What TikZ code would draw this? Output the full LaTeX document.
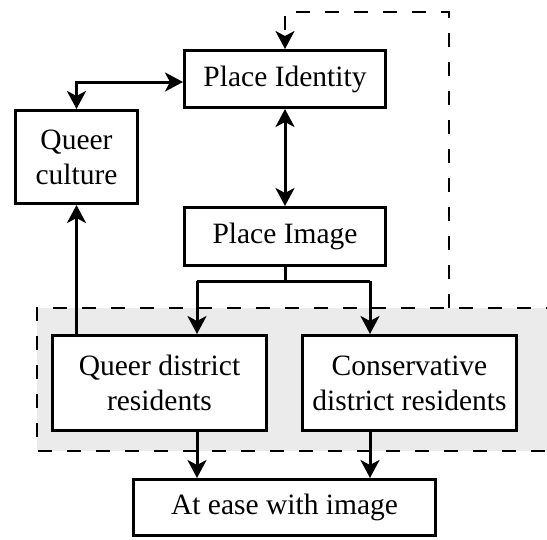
\documentclass[tikz,border=0pt]{standalone}
\usepackage{fontspec}
\setmainfont{Liberation Serif}
\usetikzlibrary{arrows.meta}
\begin{document}
\begin{tikzpicture}[x=1pt,y=-1pt,
  box/.style={draw, line width=3pt, fill=white, inner sep=0pt, align=center,
    font=\fontsize{29.5}{35}\selectfont},
  tip/.tip={Stealth[length=18pt,width=19pt,inset=5pt]},
  arr/.style={line width=3pt, -tip},
  darr/.style={line width=3pt, tip-tip},
  dline/.style={line width=2pt, dash pattern=on 14pt off 15pt}
]
\useasboundingbox (0,0) rectangle (547,539);
\clip (0,0) rectangle (547,539);
% grey group
\fill[black!8] (37,308) rectangle (560,451);
\draw[dline] (560,308) -- (37,308) -- (37,451) -- (560,451);

\node[box, minimum width=201pt, minimum height=57pt] (pi) at (285,79) {Place Identity};
\node[box, minimum width=201pt, minimum height=58pt] (pim) at (285,236.5) {Place Image};
\node[box, minimum width=122pt, minimum height=93pt] (qc) at (76.5,157) {Queer\\culture};
\node[box, minimum width=214pt, minimum height=95pt] (qd) at (159.5,383) {Queer district\\residents};
\node[box, minimum width=214pt, minimum height=95pt] (cd) at (409.5,383) {Conservative\\district residents};
\node[box, minimum width=302pt, minimum height=56pt] (ae) at (284.5,507.5) {At ease with image};

\coordinate (top) at (449,308);
\coordinate (j) at (285,281);
\coordinate (ql) at (197,281);
\coordinate (cr) at (370,281);

% feedback dashed
\draw[dline, -tip] (top) -- (449,12) -| (pi.north);

\draw[darr] (qc.north) |- ([yshift=-3pt]pi.west);
\draw[darr] (pi.south) -- (pim.north);
\draw[line width=3pt] (pim.south) -- (j);
\draw[line width=3pt] (ql) -- (cr);
\draw[arr] (ql) -- (ql |- qd.north);
\draw[arr] (cr) -- (cr |- cd.north);
\draw[arr] (qd.north -| qc.south) -- (qc.south);
\draw[arr] (ql |- qd.south) -- (ql |- ae.north);
\draw[arr] (cr |- cd.south) -- (cr |- ae.north);
\end{tikzpicture}
\end{document}
